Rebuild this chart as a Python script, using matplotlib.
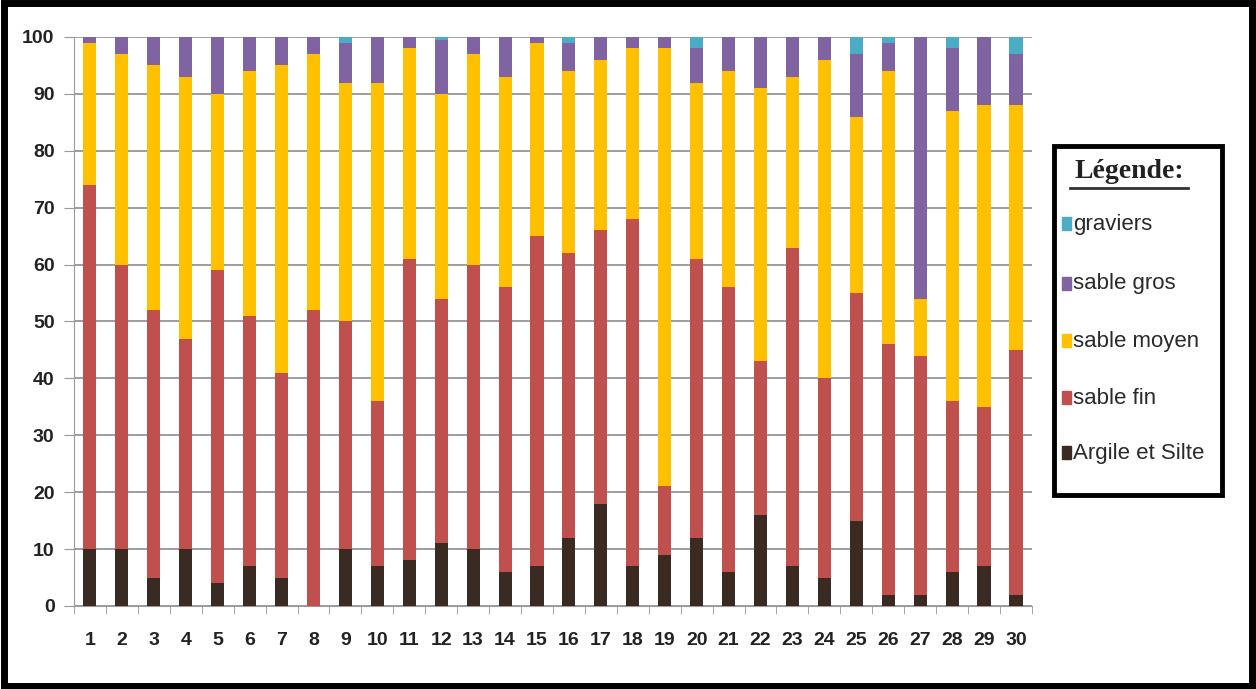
import numpy as np
import matplotlib
matplotlib.use("Agg")
import matplotlib.pyplot as plt
from matplotlib.patches import Rectangle
from matplotlib.lines import Line2D

# values (percent)
stations = [str(i) for i in range(1, 31)]
argile = [10, 10, 5, 10, 4, 7, 5, 0, 10, 7, 8, 11, 10, 6, 7,
          12, 18, 7, 9, 12, 6, 16, 7, 5, 15, 2, 2, 6, 7, 2]
sable_fin = [64, 50, 47, 37, 55, 44, 36, 52, 40, 29, 53, 43, 50, 50, 58,
             50, 48, 61, 12, 49, 50, 27, 56, 35, 40, 44, 42, 30, 28, 43]
sable_moyen = [25, 37, 43, 46, 31, 43, 54, 45, 42, 56, 37, 36, 37, 37, 34,
               32, 30, 30, 77, 31, 38, 48, 30, 56, 31, 48, 10, 51, 53, 43]
sable_gros = [1, 3, 5, 7, 10, 6, 5, 3, 7, 8, 2, 9.5, 3, 7, 1,
              5, 4, 2, 2, 6, 6, 9, 7, 4, 11, 5, 46, 11, 12, 9]
graviers = [0, 0, 0, 0, 0, 0, 0, 0, 1, 0, 0, 0.5, 0, 0, 0,
            1, 0, 0, 0, 2, 0, 0, 0, 0, 3, 1, 0, 2, 0, 3]

series = [
    ("Argile et Silte", argile, "#3b2a22"),
    ("sable fin", sable_fin, "#c0504d"),
    ("sable moyen", sable_moyen, "#ffc000"),
    ("sable gros", sable_gros, "#8064a2"),
    ("graviers", graviers, "#4bacc6"),
]

sans = ["Liberation Sans", "DejaVu Sans"]

fig = plt.figure(figsize=(12.56, 6.89), dpi=100)
ax = fig.add_axes([0.0589, 0.1205, 0.7627, 0.8258])

x = np.arange(len(stations))
bottom = np.zeros(len(stations))
for name, vals, col in series:
    vals = np.array(vals, dtype=float)
    ax.bar(x, vals, width=0.41, bottom=bottom, color=col, zorder=3)
    bottom += vals

ax.set_xlim(-0.5, len(stations) - 0.5)
ax.set_ylim(0, 100)
ax.set_yticks(np.arange(0, 101, 10))
ax.yaxis.grid(True, color="#8c8c8c", linewidth=1.2, zorder=0)
ax.set_xticks(x)
ax.set_xticklabels(stations)
ax.set_xticks(np.arange(-0.5, len(stations), 1), minor=True)
ax.tick_params(axis="x", which="major", length=0, pad=19)
ax.tick_params(axis="x", which="minor", length=6, color="#999999")
ax.tick_params(axis="y", length=7, color="#999999", pad=7)
for lab in ax.get_xticklabels():
    lab.set_fontfamily(sans)
    lab.set_fontweight("bold")
    lab.set_fontsize(14)
    lab.set_color("#222222")
for lab in ax.get_yticklabels():
    lab.set_fontfamily(sans)
    lab.set_fontweight("bold")
    lab.set_fontsize(14)
    lab.set_color("#222222")
for s in ["top", "right"]:
    ax.spines[s].set_visible(False)
ax.spines["left"].set_color("#999999")
ax.spines["bottom"].set_color("#999999")

# legend box drawn by hand
W, H = 1256.0, 689.0
def fx(px):
    return px / W
def fy(py):
    return 1 - py / H

fig.patches.append(Rectangle((fx(1054), fy(495)), fx(1222) - fx(1054), fy(146) - fy(495),
                             transform=fig.transFigure, fill=False, edgecolor="black",
                             linewidth=3.5))
fig.text(fx(1129), fy(172), "Légende:", ha="center", va="center",
         fontfamily=["Liberation Serif", "DejaVu Serif"], fontweight="bold",
         fontsize=20, color="#222222")
fig.lines.append(Line2D([fx(1070), fx(1188)], [fy(188), fy(188)], transform=fig.transFigure,
                        color="#333333", linewidth=2))
ys = [224, 284, 341, 398, 453]
for (name, vals, col), yy in zip(series[::-1], ys):
    fig.patches.append(Rectangle((fx(1062), fy(yy + 6)), fx(9), 13 / H,
                                 transform=fig.transFigure, color=col))
    fig.text(fx(1073), fy(yy), name, ha="left", va="center",
             fontfamily=sans, fontsize=16, color="#2a2a2a")

# outer frame
fig.patches.append(Rectangle((0.003, 0.005), 0.994, 0.99, transform=fig.transFigure,
                             fill=False, edgecolor="black", linewidth=5))

fig.savefig("out.png", dpi=100)
